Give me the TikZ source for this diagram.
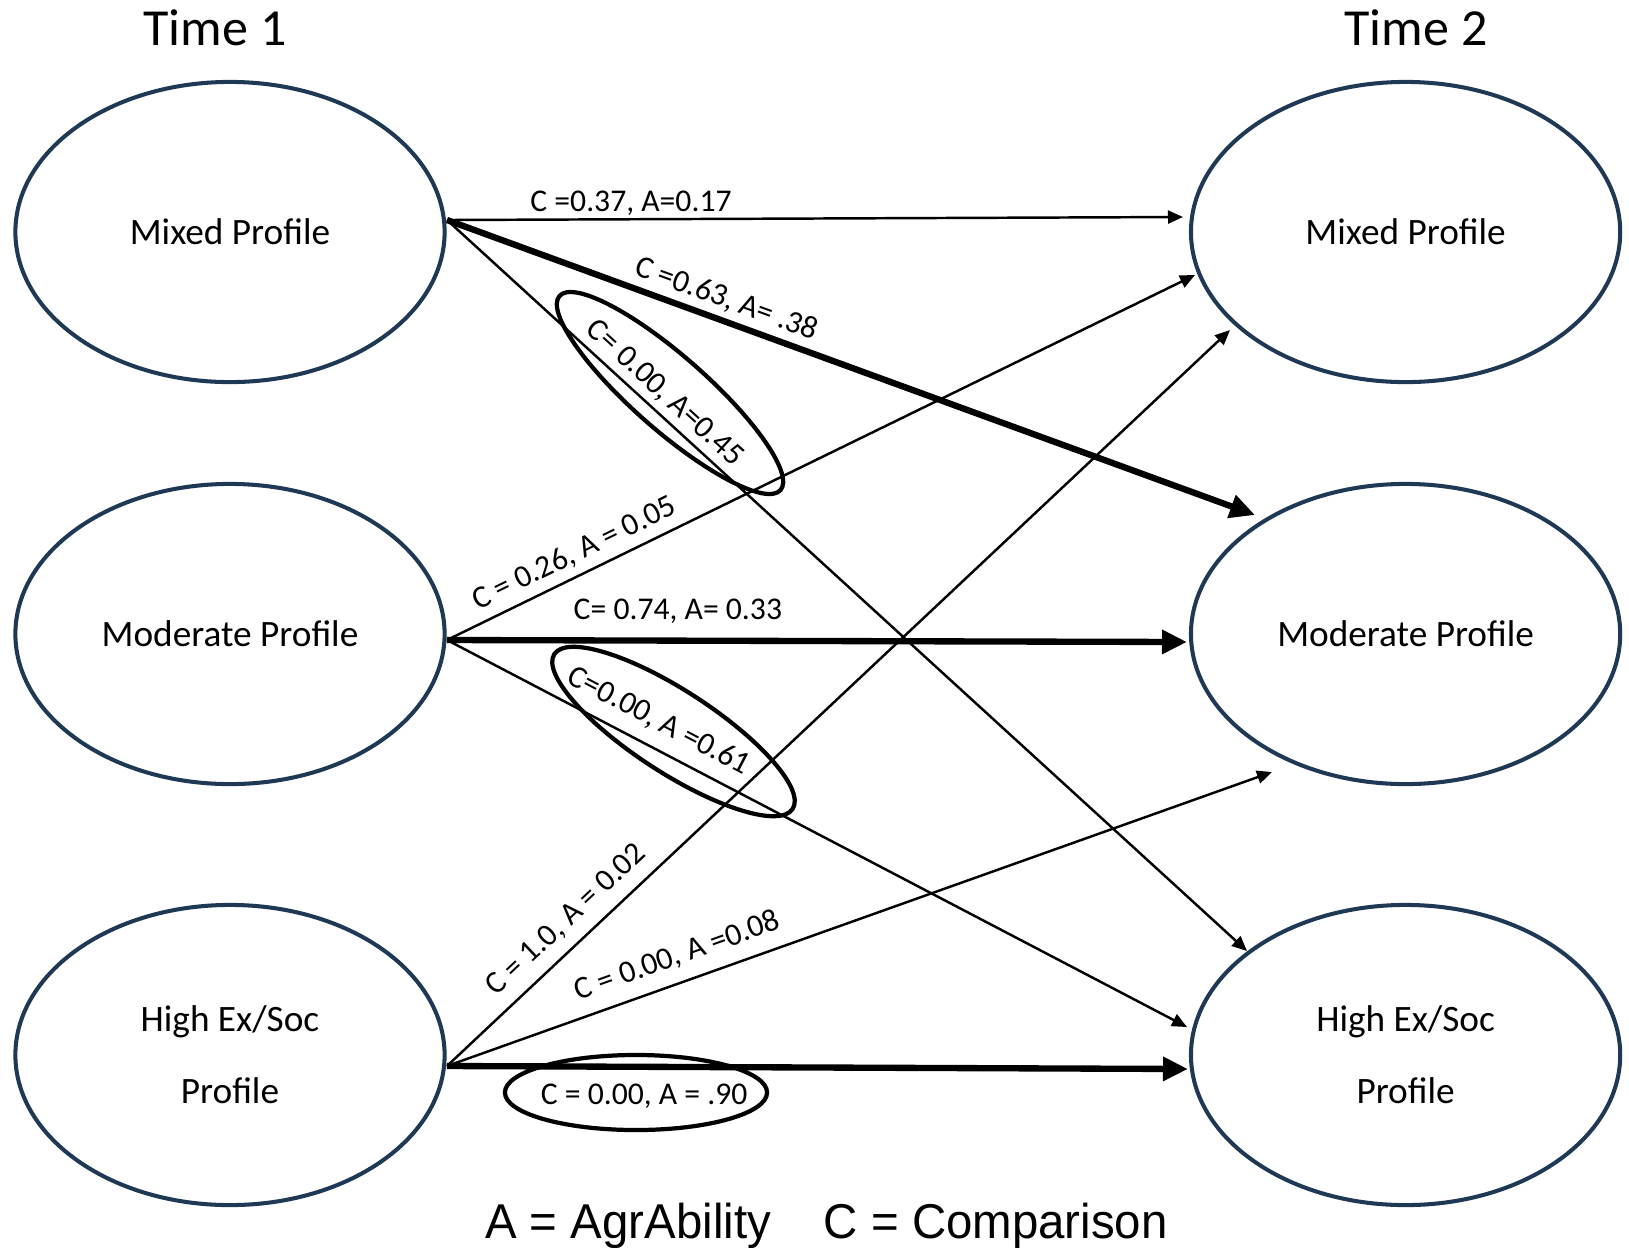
\documentclass[tikz,border=0pt]{standalone}
\usepackage{fontspec}
\setmainfont{Carlito}
\newfontfamily\legendfont[FakeStretch=0.97]{Liberation Sans}
\usetikzlibrary{shapes.geometric,arrows.meta}
\definecolor{profileblue}{RGB}{31,56,84}

\begin{document}
\begin{tikzpicture}[
  x=0.01cm, y=-0.01cm,
  profile/.style={ellipse, draw=profileblue, line width=1.15pt,
    minimum width=4.29cm, minimum height=3.0cm, inner sep=0pt, align=center,
    font=\fontsize{10.6}{20.4}\selectfont},
  ring/.style={ellipse, draw=black, line width=1.2pt, inner sep=0pt},
  thinarr/.style={-{Triangle[length=0.15cm, width=0.13cm]}, line width=0.7pt},
  thickarr/.style={-{Triangle[length=0.25cm, width=0.23cm]}, line width=1.8pt},
  lbl/.style={font=\fontsize{9}{11}\selectfont, inner sep=0.5pt},
  timelbl/.style={font=\fontsize{14.8}{17}\selectfont, anchor=base},
]
\useasboundingbox (0,0) rectangle (1629,1247);

% Column headings
\node[timelbl] (timeA) at (215,45) {Time 1};
\node[timelbl] (timeB) at (1416,45) {Time 2};

% Time 1 profiles
\node[profile] (mixA) at (230,232) {Mixed Profile};
\node[profile] (modA) at (230,634) {Moderate Profile};
\node[profile] (highA) at (230,1055) {High Ex/Soc\\Profile};

% Time 2 profiles
\node[profile] (mixB) at (1405.6,232) {Mixed Profile};
\node[profile] (modB) at (1405.6,634) {Moderate Profile};
\node[profile] (highB) at (1405.6,1055) {High Ex/Soc\\Profile};

% Start and end points of the transitions
\coordinate (mixOut) at (447,220);
\coordinate (modOut) at (447,640);
\coordinate (highOut) at (447,1066);
\coordinate (mixInA) at (1183,217);
\coordinate (mixInB) at (1195,275);
\coordinate (mixInC) at (1230,330);
\coordinate (modInA) at (1255,515);
\coordinate (modInB) at (1187,642);
\coordinate (modInC) at (1272,772);
\coordinate (highInA) at (1247,951);
\coordinate (highInB) at (1187,1027);
\coordinate (highInC) at (1188,1069);

% From Mixed Profile
\draw[thinarr] (mixOut) -- node[lbl, pos=0.25, above, outer sep=0.6pt]
  {C =0.37, A=0.17} (mixInA);
\draw[thickarr] (mixOut) -- node[lbl, pos=0.337, above, sloped, outer sep=2pt]
  {C =0.63, A= .38} (modInA);
\draw[thinarr] (mixOut) -- node[lbl, pos=0.256, above, sloped, outer sep=1.45pt]
  {C= 0.00, A=0.45} (highInA);

% From Moderate Profile
\draw[thinarr] (modOut) -- node[lbl, pos=0.183, above, sloped, outer sep=2pt]
  {C = 0.26, A = 0.05} (mixInB);
\draw[thickarr] (modOut) -- node[lbl, pos=0.312, above, outer sep=4.3pt]
  {C= 0.74, A= 0.33} (modInB);
\draw[thinarr] (modOut) -- node[lbl, pos=0.27, above, sloped, outer sep=3.4pt]
  {C=0.00, A =0.61} (highInB);

% From High Ex/Soc Profile
\draw[thinarr] (highOut) -- node[lbl, pos=0.174, above, sloped, outer sep=3pt]
  {C = 1.0, A = 0.02} (mixInC);
\draw[thinarr] (highOut) -- node[lbl, pos=0.29, above, sloped, outer sep=3.3pt]
  {C = 0.00, A =0.08} (modInC);
\draw[thickarr] (highOut) -- node[lbl, pos=0.266, below, outer sep=4.4pt]
  {C = 0.00, A = .90} (highInC);

% Rings round the highlighted values
\node[ring, rotate=-41.3, minimum width=2.94cm, minimum height=0.74cm]
  (ringA) at (670,393) {};
\node[ring, rotate=-33, minimum width=2.84cm, minimum height=0.82cm]
  (ringB) at (673.5,731.5) {};
\node[ring, minimum width=2.62cm, minimum height=0.75cm]
  (ringC) at (636,1092.5) {};

% Legend
\node[font=\legendfont\fontsize{13.9}{16}\selectfont, anchor=base]
  (legend) at (826.5,1238) {A = AgrAbility\hspace{15pt}C = Comparison};
\end{tikzpicture}
\end{document}
